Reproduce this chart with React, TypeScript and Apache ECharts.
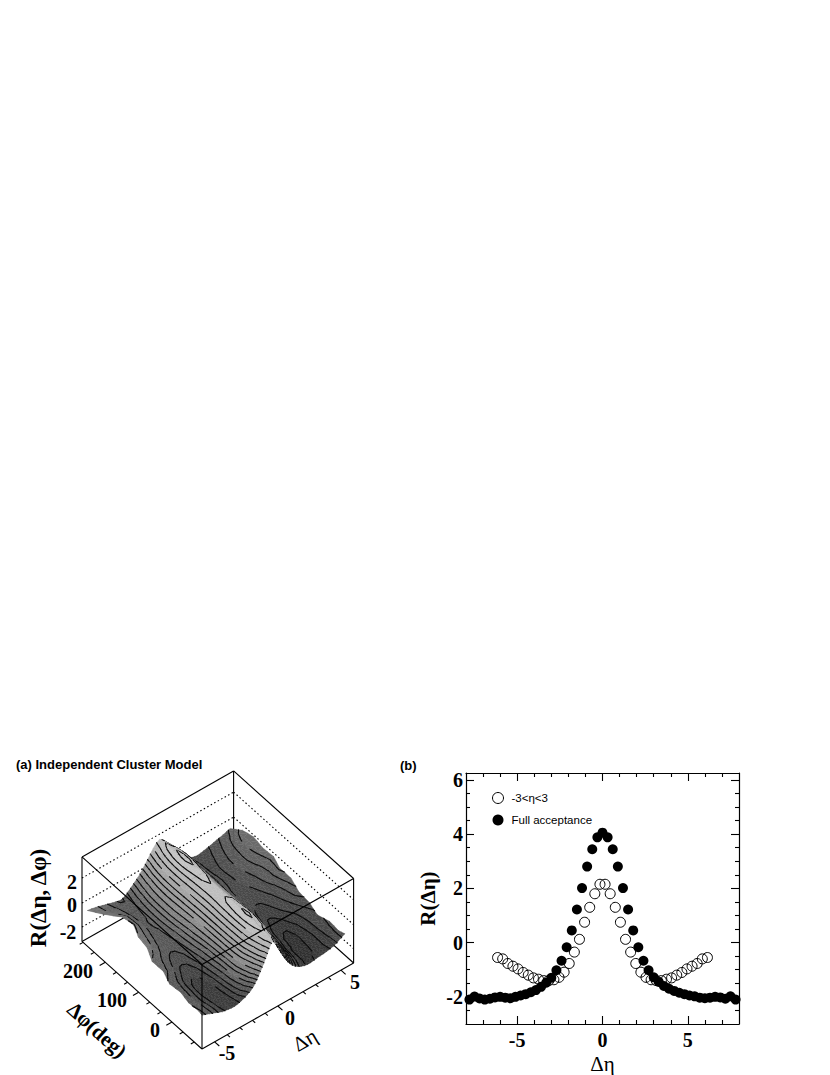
import React, { useEffect, useRef } from "react";
import * as echarts from "echarts";

// ---------- panel (b) values ----------
const fullEta = [-7.8,-7.5,-7.2,-6.9,-6.6,-6.3,-6.0,-5.7,-5.4,-5.1,-4.8,-4.5,-4.2,-3.9,-3.6,-3.3,-3.0,-2.7,-2.4,-2.1,-1.8,-1.5,-1.2,-0.9,-0.6,-0.3,0,0.3,0.6,0.9,1.2,1.5,1.8,2.1,2.4,2.7,3.0,3.3,3.6,3.9,4.2,4.5,4.8,5.1,5.4,5.7,6.0,6.3,6.6,6.9,7.2,7.5,7.8];
const fullR = [-2.1,-1.99,-2.06,-2.1,-2.07,-2.02,-2.0,-2.03,-2.05,-2.0,-1.95,-1.9,-1.83,-1.75,-1.63,-1.48,-1.3,-1.02,-0.67,-0.17,0.45,1.22,2.01,2.8,3.44,3.88,4.05,3.88,3.44,2.8,2.01,1.22,0.45,-0.17,-0.67,-1.02,-1.28,-1.45,-1.6,-1.7,-1.78,-1.85,-1.9,-1.95,-1.98,-2.03,-2.05,-2.03,-2.0,-2.02,-2.07,-1.98,-2.1];
const openEta = [-6.15,-5.85,-5.55,-5.25,-4.95,-4.65,-4.35,-4.05,-3.75,-3.45,-3.15,-2.85,-2.55,-2.25,-1.95,-1.65,-1.35,-1.05,-0.75,-0.45,-0.15,0.15,0.45,0.75,1.05,1.35,1.65,1.95,2.25,2.55,2.85,3.15,3.45,3.75,4.05,4.35,4.65,4.95,5.25,5.55,5.85,6.15];
const openR = [-0.55,-0.6,-0.77,-0.87,-0.97,-1.1,-1.2,-1.3,-1.35,-1.4,-1.4,-1.37,-1.28,-1.09,-0.77,-0.35,0.12,0.75,1.3,1.8,2.15,2.15,1.8,1.3,0.75,0.12,-0.35,-0.77,-1.09,-1.28,-1.37,-1.4,-1.4,-1.35,-1.3,-1.2,-1.1,-0.97,-0.87,-0.77,-0.6,-0.55];
const xMajor = [-5, 0, 5];
const xMinor = [-7,-6,-4,-3,-2,-1,1,2,3,4,6,7];
const yMajor = [-2, 0, 2, 4, 6];
const yMinor = [-2.5,-1.5,-1,-0.5,0.5,1,1.5,2.5,3,3.5,4.5,5,5.5];

// ---------- panel (a) values: R(eta, phi), one row per phi ----------
const etaCols = [-5.6,-5,-4.5,-4,-3.5,-3,-2.5,-2,-1.5,-1,-0.5,0,0.5,1,1.5,2,2.5,3,3.5,4,4.5,5,5.6];
const phiRows = [265,240,210,180,150,120,90,60,30,0,-30,-60,-75];
const edgeNear = [5.7,5.1,4.4,4.3,4.7,4.8,5.2,5.1,5.4,5.3,5.5,5.5,5.6];
const edgeFar = [5.6,5.9,6.0,5.9,6.0,5.7,5.8,5.6,5.7,5.5,5.7,5.6,5.7];
const r265 = [-0.9,-1.03,-1.2,-1.38,-1.55,-1.65,-1.3,-0.8,-0.25,0.5,1.3,1.8,1.25,0.35,-0.55,-1.1,-1.42,-1.55,-1.45,-1.32,-1.15,-1.02,-0.8];
const r240 = [-0.95,-1.1,-1.2,-1.33,-1.45,-1.5,-1.15,-0.65,-0.05,0.75,1.6,2.02,1.5,0.6,-0.35,-1.0,-1.32,-1.52,-1.38,-1.18,-0.98,-0.75,-0.5];
const r210 = [-0.85,-1.0,-1.12,-1.27,-1.38,-1.4,-1.05,-0.5,0.1,0.95,1.85,2.24,1.8,0.85,-0.2,-0.85,-1.3,-1.42,-1.27,-1.08,-0.88,-0.6,-0.35];
const r180 = [-0.8,-0.97,-1.12,-1.25,-1.35,-1.33,-1.02,-0.45,0.15,1.0,1.9,2.3,1.85,0.9,-0.15,-0.85,-1.22,-1.42,-1.3,-1.1,-0.88,-0.68,-0.42];
const r150 = [-0.85,-1.0,-1.15,-1.3,-1.4,-1.36,-1.05,-0.45,0.1,0.95,1.8,2.12,1.75,0.85,-0.2,-0.88,-1.32,-1.42,-1.35,-1.18,-0.98,-0.78,-0.5];
const r120 = [-0.95,-1.1,-1.25,-1.42,-1.5,-1.45,-1.12,-0.55,0.05,0.9,1.72,1.98,1.7,0.8,-0.25,-0.98,-1.35,-1.52,-1.47,-1.32,-1.12,-0.92,-0.55];
const r90 = [-1.1,-1.25,-1.42,-1.58,-1.65,-1.56,-1.22,-0.65,0.0,0.85,1.68,1.9,1.7,0.75,-0.3,-1.02,-1.48,-1.6,-1.62,-1.47,-1.28,-1.05,-0.7];
const r60 = [-1.25,-1.42,-1.6,-1.78,-1.83,-1.72,-1.33,-0.8,-0.05,0.85,1.75,1.98,1.75,0.7,-0.35,-1.12,-1.55,-1.78,-1.75,-1.62,-1.45,-1.25,-0.95];
const r30 = [-1.38,-1.55,-1.78,-1.94,-2.0,-1.86,-1.47,-0.9,-0.1,0.85,1.8,2.15,1.8,0.7,-0.4,-1.18,-1.72,-1.88,-1.95,-1.78,-1.65,-1.42,-1.25];
const r0 = [-1.4,-1.65,-1.85,-2.08,-2.13,-2.0,-1.58,-1.02,-0.15,0.8,1.8,2.28,1.85,0.7,-0.45,-1.3,-1.78,-2.03,-2.05,-1.93,-1.75,-1.58,-1.38];
const rM30 = [-1.38,-1.6,-1.83,-2.02,-2.18,-2.05,-1.7,-1.1,-0.3,0.65,1.65,2.1,1.65,0.5,-0.6,-1.38,-1.93,-2.03,-2.08,-1.88,-1.78,-1.52,-1.3];
const rM60 = [-1.3,-1.55,-1.75,-1.98,-2.1,-2.13,-1.82,-1.45,-0.8,0.05,1.2,1.95,1.2,0.05,-0.9,-1.62,-1.92,-2.07,-2.0,-1.93,-1.78,-1.62,-1.25];
const rM75 = [-1.25,-1.5,-1.72,-1.95,-2.05,-2.1,-1.95,-1.7,-1.25,-0.35,0.75,1.8,0.7,-0.45,-1.3,-1.75,-2,-2.05,-1.95,-1.9,-1.8,-1.6,-1.2];
const surface = [r265,r240,r210,r180,r150,r120,r90,r60,r30,r0,rM30,rM60,rM75];
const contourLevels = [-2.2,-2.0,-1.8,-1.6,-1.35,-1.1,-0.85,-0.6,-0.3,0,0.3,0.6,0.95,1.3,1.65,1.95,2.22];
const etaTicksA = [-5,-4,-3,-2,-1,0,1,2,3,4,5];
const etaLabelsA = [-5,0,5];
const phiTicksA = [-66.67,-33.33,0,33.33,66.67,100,133.33,166.67,200,233.33,266.67];
const phiLabelsA = [0,100,200];
const zGridA = [2.05,-0.18,-2.32];

// ---------- 3D box projection, expressed in the hidden axes of panel (a) ----------
const BOX = { left: 82, top: 773, w: 271, h: 276 };
const ETA0 = -6, ETA1 = 6, PHI0 = -90, PHI1 = 270, Z0 = -3.6, Z1 = 3.94;
const project = (eta: number, phi: number, z: number) => {
  const s = (eta - ETA0) / (ETA1 - ETA0);
  const t = (phi - PHI0) / (PHI1 - PHI0);
  const h = (z - Z0) / (Z1 - Z0);
  return [(120 + 151.6 * s - 120 * t) / BOX.w, (86 * s + 107.6 * t + 84.5 * h) / BOX.h];
};

const cr = (a: number, b: number, c: number, d: number, f: number) =>
  0.5 * (2 * b + (c - a) * f + (2 * a - 5 * b + 4 * c - d) * f * f + (3 * b - a - 3 * c + d) * f * f * f);
const at = (arr: number[], i: number) => arr[Math.max(0, Math.min(arr.length - 1, i))];
const SUB = 2;
const sampleZ = (fx: number, fy: number) => {
  const i = Math.min(Math.floor(fx), etaCols.length - 2), fi = fx - i;
  const j = Math.min(Math.floor(fy), phiRows.length - 2), fj = fy - j;
  const col = [-1, 0, 1, 2].map((d) => {
    const row = surface[Math.max(0, Math.min(surface.length - 1, j + d))];
    return cr(at(row, i - 1), at(row, i), at(row, i + 1), at(row, i + 2), fi);
  });
  return cr(col[0], col[1], col[2], col[3], fj);
};
const samplePos = (fx: number, fy: number) => {
  const i = Math.min(Math.floor(fx), etaCols.length - 2), fi = fx - i;
  const j = Math.min(Math.floor(fy), phiRows.length - 2), fj = fy - j;
  let eta = etaCols[i] + (etaCols[i + 1] - etaCols[i]) * fi;
  const phi = phiRows[j] + (phiRows[j + 1] - phiRows[j]) * fj;
  const E = eta < 0 ? edgeNear : edgeFar;
  const edge = E[j] + (E[j + 1] - E[j]) * fj;
  const a = Math.abs(eta);
  if (a > 3.5) eta = Math.sign(eta) * (3.5 + ((a - 3.5) * (edge - 3.5)) / (5.6 - 3.5));
  return [eta, phi];
};

const gStops = [[-2.4, 48], [-2, 62], [-1, 110], [0, 146], [1, 170], [2, 194], [2.5, 202]];
const grayOf = (z: number, far: boolean) => {
  let g = gStops[gStops.length - 1][1];
  if (z <= gStops[0][0]) g = gStops[0][1];
  else for (let k = 0; k < gStops.length - 1; k++) {
    if (z <= gStops[k + 1][0]) {
      g = gStops[k][1] + ((gStops[k + 1][1] - gStops[k][1]) * (z - gStops[k][0])) / (gStops[k + 1][0] - gStops[k][0]);
      break;
    }
  }
  if (far) g *= 0.82;
  g = Math.round(g);
  return `rgb(${g},${g},${g})`;
};

type V = [number, number, number];
const clip = (poly: V[], level: number, keepAbove: boolean) => {
  const out: V[] = [];
  for (let k = 0; k < poly.length; k++) {
    const a = poly[k], b = poly[(k + 1) % poly.length];
    const ia = keepAbove ? a[2] >= level : a[2] <= level;
    const ib = keepAbove ? b[2] >= level : b[2] <= level;
    if (ia) out.push(a);
    if (ia !== ib) {
      const f = (level - a[2]) / (b[2] - a[2]);
      out.push([a[0] + (b[0] - a[0]) * f, a[1] + (b[1] - a[1]) * f, level]);
    }
  }
  return out;
};

// one item per refined cell, back to front
const cellIndex: number[][] = [];
for (let i = (etaCols.length - 1) * SUB - 1; i >= 0; i--)
  for (let j = 0; j < (phiRows.length - 1) * SUB; j++) cellIndex.push([i, j]);

const vertex = (i: number, j: number): V => {
  const fx = i / SUB, fy = j / SUB;
  const z = sampleZ(fx, fy);
  const [eta, phi] = samplePos(fx, fy);
  const p = project(eta, phi, z);
  return [p[0], p[1], z];
};

const bands = [-9, ...contourLevels, 9];
const renderCell = (params: any, api: any) => {
  const i = api.value(0), j = api.value(1);
  const a = vertex(i, j), b = vertex(i + 1, j), c = vertex(i + 1, j + 1), d = vertex(i, j + 1);
  const far = samplePos(i / SUB, j / SUB)[0] > 0.2;
  const children: any[] = [];
  const tris: V[][] = [[a, b, c], [a, c, d]];
  const toPx = (v: V) => api.coord([v[0], v[1]]);
  for (const tri of tris) {
    const lo = Math.min(tri[0][2], tri[1][2], tri[2][2]);
    const hi = Math.max(tri[0][2], tri[1][2], tri[2][2]);
    for (let k = 0; k < bands.length - 1; k++) {
      if (bands[k + 1] < lo || bands[k] > hi) continue;
      const poly = clip(clip(tri, bands[k], true), bands[k + 1], false);
      if (poly.length < 3) continue;
      const mid = Math.max(-2.4, Math.min(2.4, (Math.max(bands[k], -2.5) + Math.min(bands[k + 1], 2.5)) / 2));
      const fill = grayOf(mid, far);
      children.push({ type: "polygon", shape: { points: poly.map(toPx) }, style: { fill, stroke: fill, lineWidth: 0.4 } });
    }
  }
  for (const tri of tris) {
    for (const L of contourLevels) {
      const pts: number[][] = [];
      for (let k = 0; k < 3; k++) {
        const p = tri[k], q = tri[(k + 1) % 3];
        if ((p[2] - L) * (q[2] - L) < 0) {
          const f = (L - p[2]) / (q[2] - p[2]);
          pts.push(toPx([p[0] + (q[0] - p[0]) * f, p[1] + (q[1] - p[1]) * f, L]));
        }
      }
      if (pts.length === 2)
        children.push({ type: "line", shape: { x1: pts[0][0], y1: pts[0][1], x2: pts[1][0], y2: pts[1][1] }, style: { stroke: "#0a0a0a", lineWidth: 1.1, lineCap: "round" } });
    }
  }
  return { type: "group", children };
};

const seg = (api: any, p: number[], q: number[], lineWidth = 1.1, dash?: number[]) => {
  const A = api.coord(project(p[0], p[1], p[2]));
  const B = api.coord(project(q[0], q[1], q[2]));
  return { type: "line", shape: { x1: A[0], y1: A[1], x2: B[0], y2: B[1] }, style: { stroke: "#000", lineWidth, lineDash: dash } };
};

const renderBack = (_: any, api: any) => {
  const ch: any[] = [
    seg(api, [ETA0, PHI1, Z1], [ETA1, PHI1, Z1]),
    seg(api, [ETA1, PHI1, Z1], [ETA1, PHI0, Z1]),
    seg(api, [ETA1, PHI1, Z0], [ETA1, PHI1, Z1]),
    seg(api, [ETA0, PHI1, Z0], [ETA0, PHI1, Z1]),
    seg(api, [ETA1, PHI0, Z0], [ETA1, PHI0, Z1]),
    seg(api, [ETA0, PHI1, Z0], [ETA1, PHI1, Z0]),
    seg(api, [ETA1, PHI0, Z0], [ETA1, PHI1, Z0]),
  ];
  for (const z of zGridA) {
    ch.push(seg(api, [ETA0, PHI1, z], [ETA1, PHI1, z], 1.1, [1.5, 2.5]));
    ch.push(seg(api, [ETA1, PHI1, z], [ETA1, PHI0, z], 1.1, [1.5, 2.5]));
  }
  return { type: "group", children: ch };
};

const renderFront = (_: any, api: any) => {
  const ch: any[] = [
    seg(api, [ETA0, PHI1, Z1], [ETA0, PHI0, Z1]),
    seg(api, [ETA0, PHI0, Z1], [ETA1, PHI0, Z1]),
    seg(api, [ETA0, PHI0, Z0], [ETA0, PHI0, Z1]),
    seg(api, [ETA0, PHI1, Z0], [ETA0, PHI0, Z0]),
    seg(api, [ETA0, PHI0, Z0], [ETA1, PHI0, Z0]),
  ];
  for (const e of etaTicksA) {
    const len = etaLabelsA.includes(e) ? 14 : 8;
    ch.push(seg(api, [e, PHI0, Z0], [e, PHI0 - len, Z0]));
  }
  for (const p of phiTicksA) {
    const len = phiLabelsA.includes(Math.round(p)) ? 0.45 : 0.27;
    ch.push(seg(api, [ETA0, p, Z0], [ETA0 - len, p, Z0]));
  }
  return { type: "group", children: ch };
};

const SERIF = "'Liberation Serif', serif";
const SANS = "'Liberation Sans', sans-serif";
const txt = (text: string, x: number, y: number, font: string, rotDeg = 0, align = "center") => ({
  type: "text", x, y, rotation: (rotDeg * Math.PI) / 180, z: 20,
  style: { text, font, fill: "#000", textAlign: align, textVerticalAlign: "middle" },
});

const LINE = { onZero: false, lineStyle: { color: "#000", width: 1.2 } };
const NOLINE = { show: false, onZero: false };

function buildOption() {
  const xTick = (values: number[], length: number) => ({ show: true, inside: true, length, customValues: values, lineStyle: { color: "#000", width: 1.1 } });
  const xBase = { gridIndex: 0, type: "value", min: -8, max: 8, splitLine: { show: false } };
  const yBase = { gridIndex: 0, type: "value", min: -3, max: 6.25, splitLine: { show: false } };
  const noLabel = { show: false };
  const digit = { color: "#000", fontFamily: SERIF, fontWeight: "bold", fontSize: 20 };
  return {
    animation: false,
    backgroundColor: "#fff",
    grid: [
      { left: 466, top: 773, width: 273, height: 254 },
      { left: BOX.left, top: BOX.top, width: BOX.w, height: BOX.h },
    ],
    xAxis: [
      { ...xBase, position: "bottom", axisLine: LINE, axisTick: xTick(xMajor, 8), axisLabel: { ...digit, customValues: xMajor, margin: 6 },
        name: "Δη", nameLocation: "middle", nameGap: 29, nameTextStyle: { color: "#000", fontFamily: SERIF, fontSize: 21 } },
      { ...xBase, position: "bottom", axisLine: NOLINE, axisTick: xTick(xMinor, 4), axisLabel: noLabel },
      { ...xBase, position: "top", axisLine: LINE, axisTick: xTick(xMajor, 8), axisLabel: noLabel },
      { ...xBase, position: "top", axisLine: NOLINE, axisTick: xTick(xMinor, 4), axisLabel: noLabel },
      { gridIndex: 1, type: "value", min: 0, max: 1, show: false },
    ],
    yAxis: [
      { ...yBase, position: "left", axisLine: LINE, axisTick: xTick(yMajor, 8), axisLabel: { ...digit, customValues: yMajor, margin: 3 },
        name: "R(Δη)", nameLocation: "middle", nameGap: 28, nameTextStyle: { color: "#000", fontFamily: SERIF, fontWeight: "bold", fontSize: 21 } },
      { ...yBase, position: "left", axisLine: NOLINE, axisTick: xTick(yMinor, 4), axisLabel: noLabel },
      { ...yBase, position: "right", axisLine: LINE, axisTick: xTick(yMajor, 8), axisLabel: noLabel },
      { ...yBase, position: "right", axisLine: NOLINE, axisTick: xTick(yMinor, 4), axisLabel: noLabel },
      { gridIndex: 1, type: "value", min: 0, max: 1, show: false },
    ],
    legend: {
      left: 487, top: 787, orient: "vertical", itemGap: 10, itemWidth: 11, itemHeight: 11,
      textStyle: { color: "#000", fontFamily: SANS, fontSize: 11.5, padding: [0, 0, 0, 3] },
      data: [{ name: "-3<η<3", icon: "circle", itemStyle: { color: "transparent", borderColor: "#000", borderWidth: 1 } }, { name: "Full acceptance", icon: "circle" }],
    },
    series: [
      { type: "custom", name: "box back", coordinateSystem: "cartesian2d", xAxisIndex: 4, yAxisIndex: 4, silent: true, z: 1, data: [[0, 0]], renderItem: renderBack },
      { type: "custom", name: "surface", coordinateSystem: "cartesian2d", xAxisIndex: 4, yAxisIndex: 4, silent: true, z: 2, progressive: 0, data: cellIndex, renderItem: renderCell },
      { type: "custom", name: "box front", coordinateSystem: "cartesian2d", xAxisIndex: 4, yAxisIndex: 4, silent: true, z: 3, data: [[0, 0]], renderItem: renderFront },
      { type: "scatter", name: "-3<η<3", xAxisIndex: 0, yAxisIndex: 0, symbolSize: 10, z: 4,
        itemStyle: { color: "transparent", borderColor: "#000", borderWidth: 1, opacity: 1 }, data: openEta.map((e, i) => [e, openR[i]]) },
      { type: "scatter", name: "Full acceptance", xAxisIndex: 0, yAxisIndex: 0, symbolSize: 10, z: 5,
        itemStyle: { color: "#000", opacity: 1 }, data: fullEta.map((e, i) => [e, fullR[i]]) },
    ],
    graphic: [
      txt("(a) Independent Cluster Model", 16, 764, `bold 13px ${SANS}`, 0, "left"),
      txt("(b)", 400, 765, `bold 13px ${SANS}`, 0, "left"),
      txt("R(Δη, Δφ)", 38, 898, `bold 23px ${SERIF}`, 90),
      txt("2", 72, 882, `bold 20px ${SERIF}`),
      txt("0", 72, 905, `bold 20px ${SERIF}`),
      txt("-2", 68, 932, `bold 20px ${SERIF}`),
      txt("200", 78, 971, `bold 20px ${SERIF}`),
      txt("100", 112, 1000, `bold 20px ${SERIF}`),
      txt("0", 155, 1030, `bold 20px ${SERIF}`),
      txt("Δφ(deg)", 97, 1030, `bold 21px ${SERIF}`, -42),
      txt("-5", 227, 1053, `bold 20px ${SERIF}`),
      txt("0", 290, 1018, `bold 20px ${SERIF}`),
      txt("5", 355, 982, `bold 20px ${SERIF}`),
      txt("Δη", 305, 1040, `21px ${SERIF}`, 30),
    ],
  };
}

export default function App() {
  const ref = useRef<HTMLDivElement>(null);
  useEffect(() => {
    const chart = echarts.init(ref.current!, undefined, { renderer: "svg" });
    chart.setOption(buildOption() as any);
    return () => chart.dispose();
  }, []);
  return <div ref={ref} style={{ position: "absolute", left: 0, top: 0, width: 830, height: 1075 }} />;
}
